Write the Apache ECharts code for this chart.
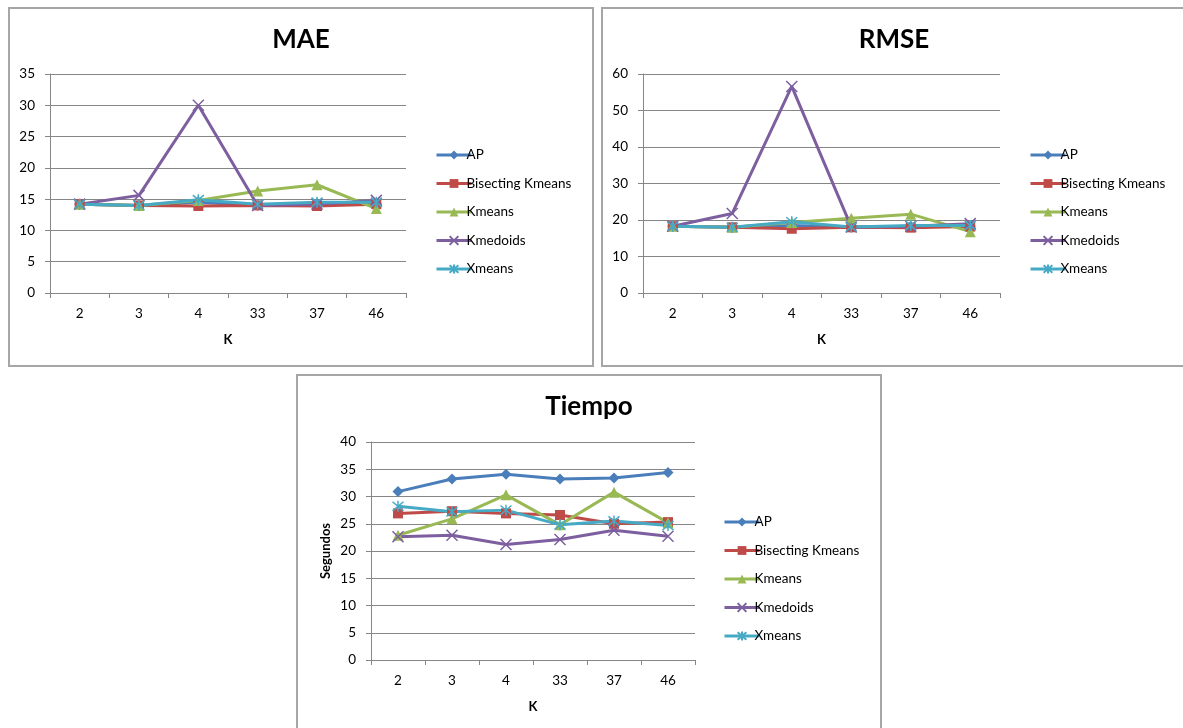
<!DOCTYPE html>
<html>
<head>
<meta charset="utf-8">
<script src="https://cdn.jsdelivr.net/npm/echarts@6/dist/echarts.min.js"></script>
<style>
html,body{margin:0;padding:0;background:#fff;}
#c{width:1183px;height:728px;}
</style>
</head>
<body>
<div id="c"></div>
<script>
const categories = ['2', '3', '4', '33', '37', '46'];
const seriesNames = ['AP', 'Bisecting Kmeans', 'Kmeans', 'Kmedoids', 'Xmeans'];

const maeAP        = [14.2, 14.0, 14.5, 14.0, 14.3, 14.3];
const maeBisecting = [14.2, 14.0, 13.9, 14.0, 13.9, 14.2];
const maeKmeans    = [14.2, 14.0, 14.8, 16.3, 17.3, 13.5];
const maeKmedoids  = [14.2, 15.6, 30.0, 14.0, 14.2, 14.8];
const maeXmeans    = [14.2, 14.0, 14.9, 14.2, 14.5, 14.5];

const rmseAP        = [18.3, 18.0, 18.5, 18.0, 18.2, 18.3];
const rmseBisecting = [18.3, 18.0, 17.6, 18.0, 17.9, 18.2];
const rmseKmeans    = [18.3, 18.0, 19.3, 20.5, 21.6, 16.8];
const rmseKmedoids  = [18.3, 21.8, 56.6, 18.1, 18.3, 19.0];
const rmseXmeans    = [18.3, 18.0, 19.5, 18.1, 18.5, 18.5];

const timeAP        = [30.9, 33.2, 34.1, 33.2, 33.4, 34.4];
const timeBisecting = [26.9, 27.3, 26.9, 26.6, 25.0, 25.3];
const timeKmeans    = [22.9, 25.9, 30.3, 24.8, 30.8, 25.2];
const timeKmedoids  = [22.6, 22.9, 21.2, 22.1, 23.8, 22.7];
const timeXmeans    = [28.2, 27.2, 27.5, 24.8, 25.5, 24.7];

const titles = ['MAE', 'RMSE', 'Tiempo'];
const yMax = [35, 60, 40];
const yInterval = [5, 10, 5];

const colors = ['#4A7EBB', '#BE4B48', '#98B954', '#7D5FA0', '#46AAC5'];
const symbols = [
  'diamond',
  'rect',
  'triangle',
  'path://M0,0L10,10M10,0L0,10',
  'path://M0,0L10,10M10,0L0,10M5,-1L5,11'
];
const symbolSizes = [11, 10, 11, 11, 11];

const data = [
  [maeAP, maeBisecting, maeKmeans, maeKmedoids, maeXmeans],
  [rmseAP, rmseBisecting, rmseKmeans, rmseKmedoids, rmseXmeans],
  [timeAP, timeBisecting, timeKmeans, timeKmedoids, timeXmeans]
];

const FONT = 'Lato';
const grids = [
  {left: 50, top: 74, width: 356, height: 219},
  {left: 643, top: 74, width: 357, height: 219},
  {left: 371, top: 442, width: 324, height: 218}
];
const titlePos = [
  {left: 296, top: 22},
  {left: 889, top: 22},
  {left: 584, top: 389}
];
const legendPos = [
  {left: 430, top: 143},
  {left: 1024, top: 143},
  {left: 718, top: 510}
];
const boxes = [
  {x: 9, y: 8, width: 584, height: 358},
  {x: 602, y: 8, width: 590, height: 358},
  {x: 297, y: 375, width: 584, height: 380}
];

const axisGray = '#868686';
const option = {
  backgroundColor: '#ffffff',
  animation: false,
  title: titles.map((t, i) => ({
    text: t,
    left: titlePos[i].left,
    top: titlePos[i].top,
    textAlign: 'center',
    textStyle: {fontFamily: FONT, fontWeight: 'bold', fontSize: 26, color: '#000'}
  })),
  legend: titles.map((t, i) => ({
    orient: 'vertical',
    left: legendPos[i].left,
    top: legendPos[i].top,
    itemWidth: 35,
    itemHeight: 11,
    itemGap: 14.5,
    data: seriesNames,
    lineStyle: {width: 3},
    textStyle: {fontFamily: FONT, fontSize: 13.5, color: '#000', padding: [0, 0, 0, -10]}
  })),
  grid: grids.map(g => Object.assign({containLabel: false}, g)),
  xAxis: titles.map((t, i) => ({
    type: 'category',
    gridIndex: i,
    data: categories,
    boundaryGap: true,
    name: 'K',
    nameLocation: 'middle',
    nameGap: 40,
    nameTextStyle: {fontFamily: FONT, fontWeight: 'bold', fontSize: 13, color: '#000'},
    axisLine: {lineStyle: {color: axisGray, width: 1}},
    axisTick: {show: true, alignWithLabel: false, length: 5, lineStyle: {color: axisGray}},
    axisLabel: {fontFamily: FONT, fontSize: 13.5, color: '#000', margin: 14},
    splitLine: {show: false}
  })),
  yAxis: titles.map((t, i) => ({
    type: 'value',
    gridIndex: i,
    min: 0,
    max: yMax[i],
    interval: yInterval[i],
    name: i === 2 ? 'Segundos' : '',
    nameLocation: 'middle',
    nameGap: 39,
    nameRotate: 90,
    nameTextStyle: {fontFamily: FONT, fontWeight: 'bold', fontSize: 13, color: '#000'},
    axisLine: {show: true, lineStyle: {color: axisGray, width: 1}},
    axisTick: {show: true, length: 5, lineStyle: {color: axisGray}},
    axisLabel: {fontFamily: FONT, fontSize: 13.5, color: '#000', margin: 15},
    splitLine: {show: true, lineStyle: {color: axisGray, width: 1}}
  })),
  graphic: boxes.map(b => ({
    type: 'rect',
    shape: b,
    style: {fill: 'none', stroke: '#a6a6a6', lineWidth: 2},
    silent: true,
    z: -10
  })),
  series: []
};

for (let g = 0; g < 3; g++) {
  for (let s = 0; s < 5; s++) {
    option.series.push({
      type: 'line',
      name: seriesNames[s],
      xAxisIndex: g,
      yAxisIndex: g,
      data: data[g][s],
      symbol: symbols[s],
      symbolSize: symbolSizes[s],
      showSymbol: true,
      lineStyle: {color: colors[s], width: 3},
      itemStyle: {color: colors[s], borderColor: colors[s], borderWidth: (s >= 3 ? 1.5 : 0)},
      emphasis: {disabled: true}
    });
  }
}

const chart = echarts.init(document.getElementById('c'), null, {renderer: 'canvas'});
chart.setOption(option);
</script>
</body>
</html>
